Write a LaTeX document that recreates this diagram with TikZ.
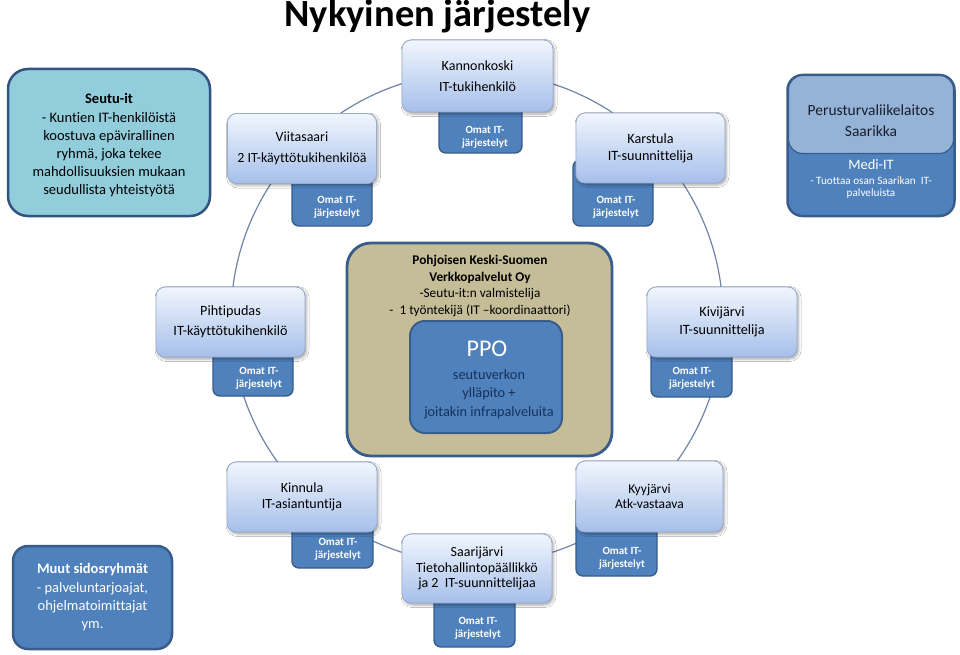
\documentclass[tikz,border=0pt]{standalone}
\usepackage{fontspec}
\setmainfont{Carlito}[Ligatures={NoCommon}]
\usetikzlibrary{shadows.blur}
\definecolor{lbtop}{RGB}{241,246,253}
\definecolor{lbbot}{RGB}{166,191,234}
\definecolor{lbdraw}{RGB}{155,172,202}
\definecolor{dkfill}{RGB}{79,129,189}
\definecolor{dkdraw}{RGB}{56,93,138}
\definecolor{ringc}{RGB}{112,132,168}
\definecolor{seutufill}{RGB}{146,205,220}
\definecolor{seutudraw}{RGB}{50,82,128}
\definecolor{tanfill}{RGB}{196,189,151}
\definecolor{palefill}{RGB}{149,179,215}
\definecolor{navytext}{RGB}{23,50,90}
\definecolor{darktext}{RGB}{25,30,45}
\tikzset{
  lightbox/.style={draw=lbdraw, line width=0.9pt, rounded corners=9pt,
    top color=lbtop, bottom color=lbbot, inner sep=0pt, align=center,
    minimum width=149pt, minimum height=70pt,
    blur shadow={shadow xshift=1.5pt, shadow yshift=-2pt, shadow blur radius=2.5pt, shadow opacity=35}},
  darkbox/.style={draw=dkdraw, fill=dkfill, line width=1.4pt, rounded corners=7pt, inner sep=0pt},
  omat/.style={text=white, font=\bfseries\fontsize{11}{13}\selectfont, align=center, inner sep=0pt},
  txt/.style={inner sep=0pt, align=center},
}
\begin{document}
\begin{tikzpicture}[x=1pt,y=-1pt]
\useasboundingbox (0,0) rectangle (960,655);
\fill[white] (0,0) rectangle (960,655);

% title
\node[anchor=base, font=\bfseries\fontsize{38.5}{40}\selectfont, inner sep=0pt] (title) at (437.5,27) {Nykyinen järjestely};

% ring connecting the municipalities
\node[draw=ringc, line width=1.2pt, circle, minimum size=492pt, inner sep=0pt] (ring) at (477,318) {};

% Seutu-it
\node[draw=seutudraw, line width=2.5pt, fill=seutufill, rounded corners=20pt,
  minimum width=202pt, minimum height=147pt, align=center,
  font=\fontsize{14.5}{18.2}\selectfont] (seutu) at (109,142.5) {};
\node[txt, font=\fontsize{14.5}{18.2}\selectfont] (seutuT) at (109,145.5)
  {\textbf{Seutu-it}\\- Kuntien IT-henkilöistä\\koostuva epävirallinen\\ryhmä, joka tekee\\mahdollisuuksien mukaan\\seudullista yhteistyötä};

% Perusturvaliikelaitos Saarikka / Medi-IT
\node[draw=dkdraw, line width=2.5pt, fill=dkfill, rounded corners=15pt,
  minimum width=167pt, minimum height=141pt] (medi) at (871,145.5) {};
\node[draw=dkdraw, line width=1.2pt, fill=palefill, rounded corners=14pt,
  minimum width=165pt, minimum height=78pt] (saarikka) at (871,114.5) {};
\node[txt, text=darktext, font=\fontsize{15.5}{21}\selectfont] (saarikkaT) at (871,121)
  {Perusturvaliikelaitos\\Saarikka};
\node[txt, text=white, font=\fontsize{14.4}{16}\selectfont] (mediT) at (871,165) {Medi-IT};
\node[txt, text=white, font=\fontsize{11.2}{12}\selectfont] (mediS) at (871,188)
  {- Tuottaa osan Saarikan\ \ IT-\\palveluista};

% central box
\node[draw=dkdraw, line width=2.8pt, fill=tanfill, rounded corners=24pt,
  minimum width=265pt, minimum height=213pt] (pks) at (479.5,349.5) {};
\node[txt, font=\fontsize{13.3}{16.5}\selectfont] (pksT) at (480,286)
  {\textbf{Pohjoisen Keski-Suomen}\\\textbf{Verkkopalvelut Oy}\\-Seutu-it:n valmistelija\\-\ \ 1 työntekijä (IT –koordinaattori)};
\node[draw=dkdraw, line width=2pt, fill=dkfill, rounded corners=15pt,
  minimum width=152pt, minimum height=112pt] (ppo) at (486,377) {};
\node[txt, text=white, font=\fontsize{24}{24}\selectfont] (ppoT) at (487,349) {PPO};
\node[txt, text=navytext, font=\fontsize{14.3}{18.5}\selectfont] (ppoS) at (489,394)
  {seutuverkon\\ylläpito +\\joitakin infrapalveluita};

% Muut sidosryhmät
\node[draw=dkdraw, line width=2.5pt, fill=dkfill, rounded corners=15pt,
  minimum width=159pt, minimum height=103pt, text=white, align=center,
  font=\fontsize{14.5}{18.3}\selectfont] (muut) at (92.5,597.5)
  {\textbf{Muut sidosryhmät}\\- palveluntarjoajat,\\ohjelmatoimittajat\\ym.};

% dark "Omat IT-järjestelyt" boxes
\node[darkbox, minimum width=83pt, minimum height=73pt] (kanD) at (480.5,116.5) {};
\node[darkbox, minimum width=80pt, minimum height=76pt] (viiD) at (332,188) {};
\node[darkbox, minimum width=80pt, minimum height=66pt] (karD) at (613,193) {};
\node[darkbox, minimum width=80pt, minimum height=76pt] (pihD) at (253,358) {};
\node[darkbox, minimum width=81pt, minimum height=77pt] (kivD) at (691.5,358.5) {};
\node[darkbox, minimum width=81pt, minimum height=73pt] (kinD) at (332.5,531.5) {};
\node[darkbox, minimum width=81pt, minimum height=81pt] (kyyD) at (616.5,535.5) {};
\node[darkbox, minimum width=81pt, minimum height=77pt] (saaD) at (474.5,608.5) {};

% light municipality boxes
\node[lightbox, minimum width=151pt, minimum height=72pt, font=\fontsize{14}{21}\selectfont] (kan) at (477.5,76) {Kannonkoski\\IT-tukihenkilö};
\node[lightbox, font=\fontsize{14}{21}\selectfont] (vii) at (302,148.5) {Viitasaari\\2 IT-käyttötukihenkilöä};
\node[lightbox, font=\fontsize{14.2}{17}\selectfont] (kar) at (650.5,148) {Karstula\\IT-suunnittelija};
\node[lightbox, font=\fontsize{14.2}{20}\selectfont] (pih) at (230.5,322) {Pihtipudas\\IT-käyttötukihenkilö};
\node[lightbox, minimum width=150pt, font=\fontsize{14.2}{18}\selectfont] (kiv) at (722,322) {Kivijärvi\\IT-suunnittelija};
\node[lightbox, minimum width=150pt, font=\fontsize{14}{15.5}\selectfont] (kin) at (302,497) {Kinnula\\IT-asiantuntija};
\node[lightbox, minimum width=147pt, minimum height=71pt, font=\fontsize{13.5}{15.5}\selectfont] (kyy) at (649.5,496.5) {Kyyjärvi\\Atk-vastaava};
\node[lightbox, minimum width=150pt, minimum height=69pt, font=\fontsize{14}{15.5}\selectfont] (saa) at (477,568.5) {Saarijärvi\\Tietohallintopäällikkö\\ja 2\ \ IT-suunnittelijaa};

% texts of the dark boxes
\node[omat] (kanO) at (485,137) {Omat IT-\\järjestelyt};
\node[omat] (viiO) at (337,207) {Omat IT-\\järjestelyt};
\node[omat] (karO) at (616,207) {Omat IT-\\järjestelyt};
\node[omat] (pihO) at (259,378) {Omat IT-\\järjestelyt};
\node[omat] (kivO) at (692,378) {Omat IT-\\järjestelyt};
\node[omat] (kinO) at (338,549) {Omat IT-\\järjestelyt};
\node[omat] (kyyO) at (622,558) {Omat IT-\\järjestelyt};
\node[omat] (saaO) at (478,628) {Omat IT-\\järjestelyt};
\end{tikzpicture}
\end{document}
